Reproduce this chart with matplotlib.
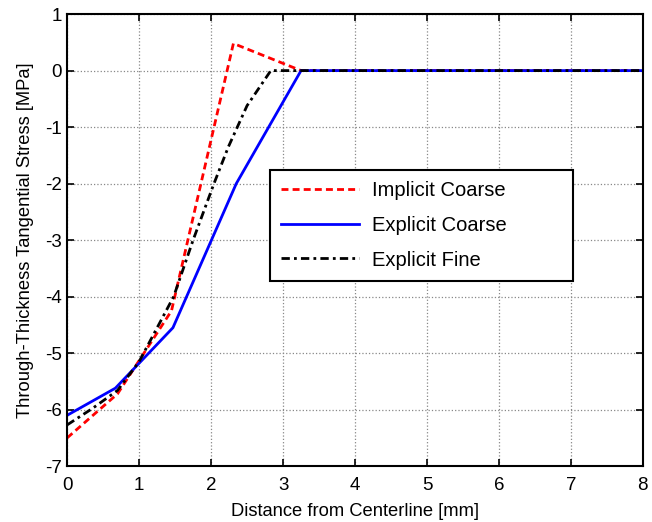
import matplotlib
matplotlib.use("Agg")
import matplotlib.pyplot as plt

plt.rcParams["font.family"] = ["Liberation Sans", "DejaVu Sans"]
plt.rcParams["axes.unicode_minus"] = False

# stress profiles
x_implicit = [0, 0.7, 1.45, 2.31, 3.25, 8]
y_implicit = [-6.5, -5.72, -4.25, 0.48, 0, 0]

x_expl_coarse = [0, 0.67, 1.47, 2.35, 3.25, 8]
y_expl_coarse = [-6.1, -5.62, -4.55, -2.0, 0, 0]

x_expl_fine = [0, 0.35, 0.7, 1.0, 1.48, 1.75, 2.04, 2.24, 2.5, 2.83, 8]
y_expl_fine = [-6.27, -5.98, -5.66, -5.15, -4.0, -3.0, -2.0, -1.35, -0.62, 0, 0]

fig = plt.figure(figsize=(6.52, 5.22), dpi=100)
ax = fig.add_axes([0.103, 0.107, 0.883, 0.866])

ax.plot(x_implicit, y_implicit, color="#ff0000", ls=(0, (2.5, 1.5)), lw=2, label="Implicit Coarse")
ax.plot(x_expl_coarse, y_expl_coarse, color="#0000ff", ls="-", lw=2, label="Explicit Coarse")
ax.plot(x_expl_fine, y_expl_fine, color="black", ls=(0, (3, 1.5, 1, 1.5)), lw=2, label="Explicit Fine")

ax.set_xlim(0, 8)
ax.set_ylim(-7, 1)
ax.set_xticks(range(0, 9))
ax.set_yticks(range(-7, 2))
ax.grid(True, ls=":", color="#888888", lw=0.9)
ax.tick_params(direction="in", top=True, right=True, labelsize=13.5, length=5, width=1.2)
ax.tick_params(axis="x", pad=8)
ax.tick_params(axis="y", pad=4)
for s in ax.spines.values():
    s.set_linewidth(1.5)

ax.set_xlabel("Distance from Centerline [mm]", fontsize=13.2, labelpad=6)
ax.set_ylabel("Through-Thickness Tangential Stress [MPa]", fontsize=13.2, labelpad=8)

leg = ax.legend(loc="upper left", bbox_to_anchor=(0.352, 0.414, 0.526, 0.241), mode="expand",
                fontsize=14.5, fancybox=False, framealpha=1, edgecolor="black",
                borderpad=0.55, labelspacing=0.78, handlelength=3.9, handletextpad=0.6,
                borderaxespad=0)
leg.get_frame().set_linewidth(1.5)

fig.savefig("out.png", dpi=100)
